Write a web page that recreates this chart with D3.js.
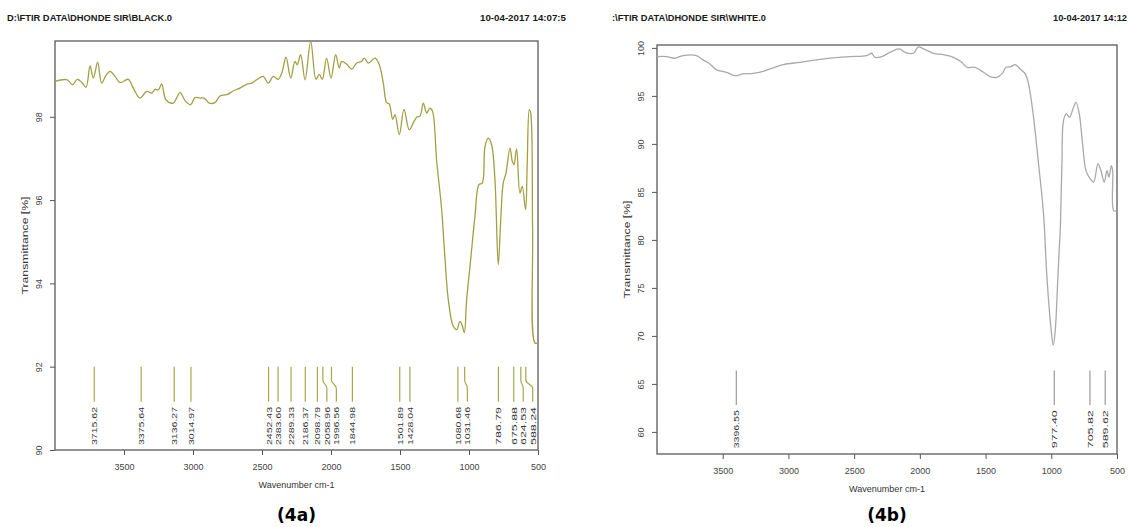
<!DOCTYPE html>
<meta charset="utf-8">
<style>
  body { margin: 0; background: #fff; }
  svg { font-family: "Liberation Sans Narrow", "Liberation Sans", Arial, sans-serif; }
  .hdr { font-weight: bold; font-size: 9px; fill: #1a1a1a; }
  .tick text { fill: #444; font-size: 9px; }
  .tick line { stroke: #555; }
  .domain { display: none; }
  .frame { fill: none; stroke: #5a5a5a; stroke-width: 1.3px; }
  .ttl { fill: #333; font-size: 9px; }
  .plab { fill: #333; font-size: 8px; }
  .panel { font-family: "DejaVu Sans", Verdana, sans-serif; font-weight: bold; font-size: 17px; fill: #000; }
</style>

<body>
  <script src="https://d3js.org/d3.v7.min.js"></script>
  <script>

    // spectrum 4a (black sample)
    var blackWn = [4000, 3915, 3872, 3838, 3807, 3775, 3746, 3722, 3691, 3662, 3630, 3601, 3565, 3529, 3469, 3433, 3384, 3336, 3299, 3275,
      3250, 3227, 3196, 3143, 3094, 3058, 3017, 2986, 2949, 2920, 2882, 2841, 2804, 2756, 2708, 2660, 2611, 2575, 2538, 2491,
      2454, 2418, 2382, 2357, 2326, 2292, 2261, 2245, 2220, 2188, 2147, 2109, 2085, 2063, 2032, 2000, 1966, 1940, 1923, 1886,
      1850, 1814, 1778, 1759, 1730, 1681, 1650, 1621, 1597, 1578, 1553, 1536, 1505, 1471, 1433, 1404, 1379, 1355, 1331, 1307,
      1283, 1264, 1235, 1198, 1180, 1150, 1114, 1089, 1066, 1051, 1034, 1017, 990, 957, 928, 904, 884, 860, 836, 812,
      788, 771, 752, 732, 703, 686, 674, 655, 631, 614, 590, 578, 563, 553, 539, 522, 500];
    var blackT = [98.85, 98.89, 98.77, 98.90, 98.83, 98.71, 99.22, 98.93, 99.31, 98.81, 99.00, 99.09, 98.97, 98.82, 98.90, 98.69, 98.45, 98.61, 98.57, 98.66,
      98.65, 98.79, 98.41, 98.33, 98.58, 98.39, 98.29, 98.46, 98.45, 98.45, 98.33, 98.34, 98.50, 98.53, 98.62, 98.69, 98.78, 98.81, 98.89, 98.97,
      98.81, 98.97, 98.90, 99.05, 99.43, 98.93, 99.33, 99.25, 99.49, 98.89, 99.81, 98.90, 99.02, 98.90, 99.41, 98.93, 99.49, 99.17, 99.33, 99.26,
      99.14, 99.29, 99.33, 99.41, 99.29, 99.41, 99.25, 98.81, 98.34, 98.31, 97.94, 98.05, 97.57, 98.18, 97.69, 97.85, 97.99, 98.02, 98.33, 98.09,
      98.21, 98.13, 96.97, 95.77, 94.90, 93.61, 92.97, 92.89, 93.09, 93.01, 92.82, 93.61, 94.50, 95.61, 96.37, 96.41, 97.29, 97.49, 97.33, 96.49,
      94.45, 95.45, 96.41, 96.65, 97.25, 96.93, 96.85, 97.23, 96.17, 96.33, 95.77, 96.89, 98.17, 98.09, 95.29, 92.57, 92.57];

    // spectrum 4b (white sample)
    var whiteWn = [4000, 3928, 3865, 3802, 3700, 3650, 3598, 3547, 3471, 3408, 3345, 3269, 3192, 3116, 3040, 2913, 2786, 2659, 2532, 2405,
      2367, 2341, 2296, 2227, 2158, 2113, 2050, 2011, 1973, 1897, 1821, 1745, 1681, 1643, 1580, 1516, 1465, 1414, 1376, 1343,
      1307, 1275, 1237, 1198, 1173, 1135, 1097, 1059, 1033, 1003, 985, 970, 952, 940, 932, 919, 907, 886, 861, 835,
      812, 787, 762, 736, 703, 678, 645, 622, 597, 576, 561, 543, 533, 525, 500];
    var whiteT = [99.09, 99.09, 98.92, 99.20, 99.20, 98.75, 98.33, 97.71, 97.46, 97.11, 97.29, 97.35, 97.56, 97.92, 98.26, 98.50, 98.75, 98.96, 99.09, 99.20,
      99.44, 99.02, 99.06, 99.54, 99.90, 99.54, 99.44, 100.10, 99.90, 99.44, 99.30, 99.02, 98.50, 97.98, 97.98, 97.46, 97.01, 96.94, 97.29, 97.98,
      98.05, 98.26, 97.81, 97.29, 96.25, 92.77, 87.92, 82.71, 76.10, 70.90, 69.03, 70.56, 75.42, 78.90, 80.97, 87.92, 92.43, 93.13, 92.77, 93.65,
      94.33, 93.13, 90.00, 87.22, 86.35, 86.00, 87.92, 87.22, 86.00, 87.22, 86.53, 87.74, 87.22, 83.05, 83.05];

    var blackPeaks = [3715.62, 3375.64, 3136.27, 3014.97, 2452.43, 2383.60, 2289.33, 2186.37, 2098.79, 2058.96,
      1996.56, 1844.98, 1501.89, 1428.04, 1080.68, 1031.46, 786.79, 675.88, 624.53, 588.24];
    var whitePeaks = [3396.55, 977.40, 705.82, 589.62];

    var xTicks = [3500, 3000, 2500, 2000, 1500, 1000, 500];
    var blackYTicks = [90, 92, 94, 96, 98];
    var whiteYTicks = [60, 65, 70, 75, 80, 85, 90, 95, 100];

    var svg = d3.select("body").append("svg")
      .attr("width", 1130)
      .attr("height", 527);

    var panels = [
      {
        wn: blackWn, t: blackT, peaks: blackPeaks, yTicks: blackYTicks,
        xr: [55, 538], yr: [450, 41], yd: [90, 99.82],
        mark: [92, 91.16, 90.12], color: "#a0a044", markColor: "#a8a848",
        file: "D:\\FTIR DATA\\DHONDE SIR\\BLACK.0", fileX: 7, fileW: 165,
        date: "10-04-2017  14:07:5", dateX: 480, dateW: 86, tag: "(4a)"
      },
      {
        wn: whiteWn, t: whiteT, peaks: whitePeaks, yTicks: whiteYTicks,
        xr: [657, 1117], yr: [454, 45], yd: [57.7, 100.3],
        mark: [66.4, 62.8, 58.3], color: "#a9a9a9", markColor: "#9a9a9a",
        file: ":\\FTIR DATA\\DHONDE SIR\\WHITE.0", fileX: 612, fileW: 154,
        date: "10-04-2017  14:12", dateX: 1053, dateW: 74, tag: "(4b)"
      }
    ];

    panels.forEach(drawPanel);

    function drawPanel(p) {
      var x = d3.scaleLinear().domain([4000, 500]).range(p.xr);
      var y = d3.scaleLinear().domain(p.yd).range(p.yr);
      var g = svg.append("g");
      var cx = (p.xr[0] + p.xr[1]) / 2;

      // header
      g.append("text").attr("class", "hdr")
        .attr("x", p.fileX).attr("y", 21)
        .attr("textLength", p.fileW).attr("lengthAdjust", "spacingAndGlyphs")
        .text(p.file);
      g.append("text").attr("class", "hdr")
        .attr("x", p.dateX).attr("y", 21)
        .attr("textLength", p.dateW).attr("lengthAdjust", "spacingAndGlyphs")
        .text(p.date);

      // x axis
      var xa = g.append("g")
        .attr("transform", "translate(0," + p.yr[0] + ")")
        .call(d3.axisBottom(x).tickValues(xTicks).tickSize(5).tickFormat(d3.format("d")));
      xa.selectAll("text").attr("y", 14).attr("dy", "0.71em");

      // y axis, labels turned
      var ya = g.append("g")
        .attr("transform", "translate(" + p.xr[0] + ",0)")
        .call(d3.axisLeft(y).tickValues(p.yTicks).tickSize(5).tickFormat(d3.format("d")));
      ya.selectAll("text")
        .attr("x", null).attr("dy", null)
        .attr("text-anchor", "middle")
        .attr("transform", "translate(-13,0) rotate(-90)");

      // frame
      g.append("rect").attr("class", "frame")
        .attr("x", p.xr[0]).attr("y", p.yr[1])
        .attr("width", p.xr[1] - p.xr[0]).attr("height", p.yr[0] - p.yr[1]);

      // titles
      g.append("text").attr("class", "ttl")
        .attr("x", cx).attr("y", p.yr[0] + 38)
        .attr("text-anchor", "middle")
        .attr("textLength", 76).attr("lengthAdjust", "spacingAndGlyphs")
        .text("Wavenumber cm-1");
      g.append("text").attr("class", "ttl")
        .attr("transform", "translate(" + (p.xr[0] - 27) + "," + ((p.yr[0] + p.yr[1]) / 2) + ") rotate(-90)")
        .attr("text-anchor", "middle")
        .attr("textLength", 98).attr("lengthAdjust", "spacingAndGlyphs")
        .text("Transmittance [%]");

      // spectrum
      var line = d3.line()
        .x(function (d) { return x(d[0]); })
        .y(function (d) { return y(d[1]); })
        .curve(d3.curveCatmullRom.alpha(0.5));
      g.append("path")
        .datum(d3.zip(p.wn, p.t))
        .attr("fill", "none")
        .attr("stroke", p.color)
        .attr("stroke-width", 1.3)
        .attr("d", line);

      // peak markers, labels pushed apart where crowded
      var pk = p.peaks.map(function (w) { return { w: w, px: x(w) }; })
        .sort(function (a, b) { return a.px - b.px; });
      pk.forEach(function (d, i) {
        d.lx = i > 0 ? Math.max(d.px, pk[i - 1].lx + 9.5) : d.px;
      });
      var y0 = y(p.mark[0]), y1 = y(p.mark[1]), h = y1 - y0;
      g.selectAll(".mk").data(pk).enter().append("path")
        .attr("fill", "none")
        .attr("stroke", p.markColor)
        .attr("stroke-width", 1.2)
        .attr("d", function (d) {
          return "M" + d.px + "," + y0 + "V" + (y0 + h * 0.38) +
            "C" + d.px + "," + (y0 + h * 0.5) + " " + d.lx + "," + (y0 + h * 0.5) + " " + d.lx + "," + (y0 + h * 0.62) +
            "V" + y1;
        });
      g.selectAll(".plab").data(pk).enter().append("text")
        .attr("class", "plab")
        .attr("transform", function (d) { return "translate(" + (d.lx + 3) + "," + y(p.mark[2]) + ") rotate(-90)"; })
        .attr("textLength", 38).attr("lengthAdjust", "spacingAndGlyphs")
        .text(function (d) { return d3.format(".2f")(d.w); });

      // panel tag
      g.append("text").attr("class", "panel")
        .attr("x", cx).attr("y", 521)
        .attr("text-anchor", "middle")
        .text(p.tag);
    }

  </script>
</body>

</html>
